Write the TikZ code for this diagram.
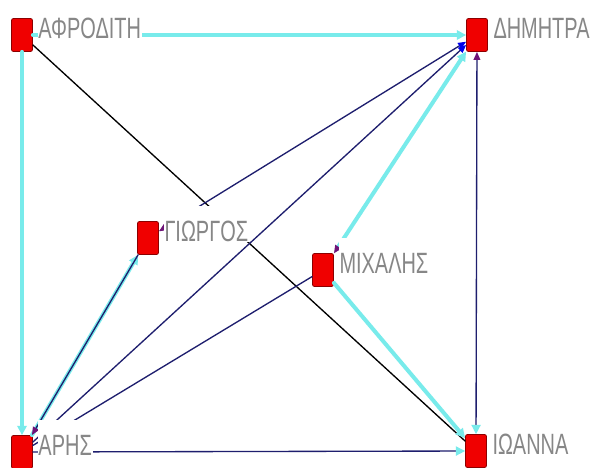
\documentclass[tikz,border=0pt]{standalone}
\usepackage{fontspec}
\newfontfamily\lblfont{Liberation Sans}
\usetikzlibrary{arrows.meta,positioning}
\definecolor{nodered}{RGB}{240,0,0}
\definecolor{nodeedge}{RGB}{140,0,0}
\definecolor{tiecyan}{RGB}{120,235,235}
\definecolor{tienavy}{RGB}{30,30,110}
\definecolor{tipblue}{RGB}{0,0,235}
\definecolor{tippurple}{RGB}{110,20,120}
\definecolor{lblgray}{RGB}{135,135,135}
\newcommand{\narrow}[1]{\scalebox{0.68}[1]{#1}}
\tikzset{
  actor/.style={draw=nodeedge, fill=nodered, line width=0.6pt, rounded corners=1.5pt,
    minimum width=15.75pt, minimum height=24.75pt, inner sep=0pt},
  lbl/.style={fill=white, text=lblgray, inner xsep=0.5pt, inner ysep=0pt,
    text height=26pt, text depth=0.5pt, anchor=base west,
    font=\lblfont\fontsize{22}{22}\selectfont},
  strong/.style={draw=tiecyan, line width=3pt},
  weak/.style={draw=tienavy, line width=1pt},
  cyantip/.style={-{Triangle[length=7pt,width=7pt]}},
}
\begin{document}
\begin{tikzpicture}[x=0.75pt, y=-0.75pt, line join=round, line cap=round]
			\path[use as bounding box, fill=white] (0,0) rectangle (590,468);
			% actors
			\node[actor] (A) at (22,35) {};
			\node[actor] (D) at (477,35) {};
			\node[actor] (G) at (148,238) {};
			\node[actor] (M) at (323,270) {};
			\node[actor] (R) at (22,452) {};
			\node[actor] (I) at (476,451) {};
			% ties
			\draw[strong, cyantip] (A) -- (D);
			\draw[strong, cyantip] (A) -- (R);
			\draw[black, line width=1pt] (A) -- (I);
			\draw[strong, cyantip] (R) -- (G);
			\draw[weak, -{Triangle[length=6pt,width=5pt,color=tippurple]}] (G) -- (R);
			\draw[weak, -{Triangle[length=6pt,width=5pt,color=tipblue]}] (R) -- (D);
			\draw[weak] (R) -- (M);
			\draw[weak, {Triangle[length=6pt,width=5pt,color=tippurple]}-{Triangle[length=6pt,width=5pt,color=tipblue]}] (G) -- (D);
			\draw[strong, {Triangle[length=6pt,width=5pt,color=tippurple]}-{Triangle[length=7pt,width=7pt]}] (M) -- (D);
			\draw[strong, cyantip] (M) -- (I);
			\draw[weak, -{Triangle[length=7pt,width=7pt,color=tiecyan]}] (R) -- (I);
			\draw[weak, {Triangle[length=6pt,width=5pt,color=tippurple]}-{Triangle[length=7pt,width=7pt,color=tiecyan]}] (D) -- (I);
			% labels
			\node[lbl] (Alab) at ([xshift=3.5pt, yshift=-15pt]A.north east) {\narrow{ΑΦΡΟΔΙΤΗ}};
			\node[lbl] (Dlab) at ([xshift=3.5pt, yshift=-15pt]D.north east) {\narrow{ΔΗΜΗΤΡΑ}};
			\node[lbl] (Glab) at ([xshift=3.5pt, yshift=-15pt]G.north east) {\narrow{ΓΙΩΡΓΟΣ}};
			\node[lbl] (Mlab) at ([xshift=3.5pt, yshift=-15pt]M.north east) {\narrow{ΜΙΧΑΛΗΣ}};
			\node[lbl] (Rlab) at ([xshift=3.5pt, yshift=-15pt]R.north east) {\narrow{ΑΡΗΣ}};
			\node[lbl] (Ilab) at ([xshift=3.5pt, yshift=-15pt]I.north east) {\narrow{ΙΩΑΝΝΑ}};
\end{tikzpicture}
\end{document}
